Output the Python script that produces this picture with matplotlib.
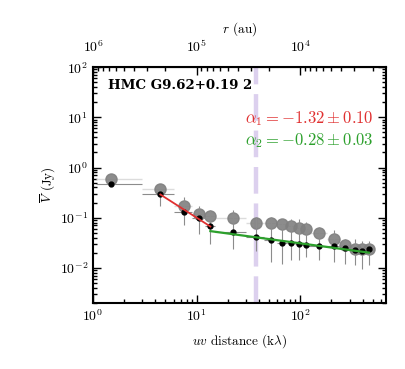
#!/usr/bin/env python3
"""Binned visibility amplitude vs uv distance for HMC G9.62+0.19 2."""

import numpy as np
import matplotlib
matplotlib.use('Agg')
import matplotlib.pyplot as plt

plt.rcParams['font.family'] = ['cmr10', 'DejaVu Serif']
plt.rcParams['mathtext.fontset'] = 'cm'
plt.rcParams['axes.formatter.use_mathtext'] = True
plt.rcParams['font.size'] = 10

# binned data
uv = [1.49, 4.47, 7.57, 10.5, 13.6, 22.7, 37.6, 52.8, 67.4, 82.4, 97.8, 114,
      152, 214, 274, 338, 394, 461]
uv_lo = [1.08, 3, 6, 9, 12, 15, 30, 45, 60, 75, 90, 105, 120, 180, 240, 300, 360, 420]
uv_hi = [3, 6, 9, 12, 15, 30, 45, 60, 75, 90, 105, 120, 180, 240, 300, 360, 420, 500]
amp_gray = [0.585, 0.377, 0.17, 0.118, 0.108, 0.1, 0.079, 0.077, 0.075, 0.067,
            0.063, 0.059, 0.049, 0.038, 0.029, 0.024, 0.0234, 0.0234]
amp_black = [0.48, 0.29, 0.131, 0.1, 0.067, 0.051, 0.041, 0.0354, 0.031, 0.031,
             0.030, 0.028, 0.0277, 0.0273, 0.0249, 0.0227, 0.022, 0.0234]
amp_lo = [0.42, 0.175, 0.07, 0.048, 0.030, 0.024, 0.022, 0.0132, 0.0122, 0.0141,
          0.0141, 0.0164, 0.0141, 0.0132, 0.0122, 0.0113, 0.0097, 0.0113]
amp_hi = [0.55, 0.38, 0.257, 0.175, 0.14, 0.14, 0.103, 0.103, 0.095, 0.095,
          0.095, 0.082, 0.065, 0.056, 0.038, 0.038, 0.035, 0.035]

# power-law fits
alpha1, alpha1_err = -1.32, 0.10
alpha2, alpha2_err = -0.28, 0.03
fit1_range = [4.47, 13.6]
fit1_amp0 = 0.29
fit2_range = [13.6, 461]
fit2_amp0 = 0.054

uv_mark = 37.6
r_ticks = [1e6, 1e5, 1e4]
source = 'HMC G9.62+0.19 2'

uv = np.array(uv)
amp_black = np.array(amp_black)
xerr = [uv - np.array(uv_lo), np.array(uv_hi) - uv]
yerr = [amp_black - np.array(amp_lo), np.array(amp_hi) - amp_black]

fig = plt.figure(figsize=(4.06, 3.69), dpi=100)
ax = fig.add_axes([0.229, 0.179, 0.722, 0.639])
ax.set_xscale('log')
ax.set_yscale('log')

ax.axvline(uv_mark, color='#dcd0ee', lw=3.2, dashes=(6, 2.2), zorder=0)

ax.errorbar(uv, amp_gray, xerr=xerr, fmt='o', color='0.5', ms=8,
            ecolor='0.85', elinewidth=1.0, capsize=0, zorder=2, alpha=0.9)
ax.errorbar(uv, amp_black, xerr=xerr, yerr=yerr, fmt='o', color='black', ms=3.5,
            ecolor='0.55', elinewidth=0.8, capsize=0, zorder=3)

c_red = '#e03030'
c_green = '#2ca02c'
x1 = np.array(fit1_range)
ax.plot(x1, fit1_amp0 * (x1 / x1[0]) ** alpha1, color=c_red, lw=1.3, zorder=4)
x2 = np.array(fit2_range)
ax.plot(x2, fit2_amp0 * (x2 / x2[0]) ** alpha2, color=c_green, lw=1.6, zorder=4)


def fmt_alpha(i, a, e):
    return r'$\alpha_%d={-}%.2f\pm%.2f$' % (i, abs(a), e)


ax.text(0.05, 0.924, source, transform=ax.transAxes, ha='left', va='center',
        fontsize=9.6, family='DejaVu Serif', fontweight='bold')
ax.text(0.958, 0.784, fmt_alpha(1, alpha1, alpha1_err), transform=ax.transAxes,
        ha='right', va='center', color=c_red, fontsize=12)
ax.text(0.958, 0.69, fmt_alpha(2, alpha2, alpha2_err), transform=ax.transAxes,
        ha='right', va='center', color=c_green, fontsize=12)

ax.set_xlim(1, 676)
ax.set_ylim(0.002, 100)
ax.set_xlabel(r'$uv$ distance (k$\lambda$)', fontsize=9.5, labelpad=6)
ax.set_ylabel(r'$\overline{V}$ (Jy)', fontsize=9.5, labelpad=1)

for s in ax.spines.values():
    s.set_linewidth(1.5)
ax.tick_params(which='both', direction='in', top=False, right=True, width=1.0)
ax.tick_params(which='major', length=6)
ax.tick_params(which='minor', length=3)

inv = lambda x: 1e6 / np.maximum(x, 1e-12)
sec = ax.secondary_xaxis('top', functions=(inv, inv))
sec.set_xticks(r_ticks)
sec.set_xlabel(r'$r$ (au)', fontsize=9.5)
sec.tick_params(which='both', direction='in', width=1.0, pad=9)
sec.tick_params(which='major', length=6)
sec.tick_params(which='minor', length=3)

fig.savefig('out.png', dpi=100)
